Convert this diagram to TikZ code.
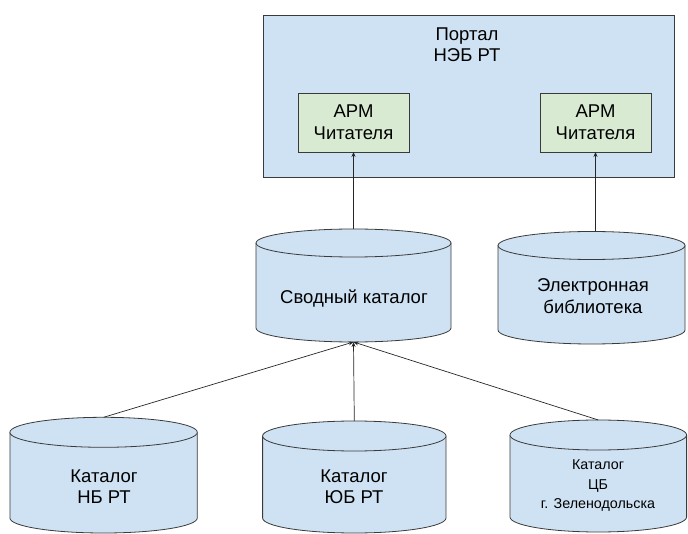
\documentclass[tikz,border=0pt]{standalone}
\usepackage{fontspec}
\setmainfont{Liberation Sans}
\usetikzlibrary{arrows.meta,calc}
\definecolor{blueF}{HTML}{CFE2F3}
\definecolor{greenF}{HTML}{D9EAD3}
\definecolor{edge}{HTML}{3A3A3A}
\tikzset{
  cylnode/.style={draw=none, fill=none, inner sep=0pt, outer sep=0pt},
  cylline/.style={draw=edge, line width=0.8pt},
  txt/.style={align=center, inner sep=0pt, font=\fontsize{18.5}{21}\selectfont},
  smalltxt/.style={align=center, inner sep=0pt, font=\fontsize{14.3}{19.5}\selectfont},
  portalbox/.style={draw=edge, fill=blueF, line width=0.8pt, inner sep=0pt, outer sep=0pt},
  armbox/.style={draw=edge, fill=greenF, line width=0.8pt, inner sep=0pt, outer sep=0pt,
    minimum width=111pt, minimum height=59pt, align=center, font=\fontsize{18.5}{22}\selectfont},
  arr/.style={draw=black!85, line width=0.7pt, -{Stealth[length=5pt,width=4pt]}}
}
% name, cx, top, bottom, rx, ry
\newcommand\dbcyl[6]{%
  \node[cylnode, minimum width={2*#5pt}, minimum height={(#4-#3)*1pt}] (#1) at (#2,{(#3+#4)/2}) {};
  \fill[blueF] ({#2-#5},{#3+#6}) -- ({#2-#5},{#4-#6})
     arc[start angle=180, end angle=360, x radius=#5pt, y radius=#6pt]
     -- ({#2+#5},{#3+#6}) -- cycle;
  \draw[cylline] ({#2-#5},{#3+#6}) -- ({#2-#5},{#4-#6})
     arc[start angle=180, end angle=360, x radius=#5pt, y radius=#6pt]
     -- ({#2+#5},{#3+#6});
  \draw[cylline, fill=blueF] (#2,{#3+#6}) ellipse[x radius=#5pt, y radius=#6pt];
}
\begin{document}
\begin{tikzpicture}[x=1pt, y=-1pt]
\useasboundingbox (0,0) rectangle (688,534);

% portal
\node[portalbox, minimum width=411pt, minimum height=162pt] (portal) at (468.5,96) {};
\node[txt] (portalT) at (467,45) {Портал\\НЭБ РТ};
\node[armbox] (arml) at (353.5,122.5) {АРМ\\Читателя};
\node[armbox] (armr) at (595.5,122.5) {АРМ\\Читателя};

% cylinders
\dbcyl{svod}{353.5}{229}{342}{97.5}{14}
\node[txt] (svodT) at (354,298) {Сводный каталог};

\dbcyl{elec}{591.5}{231.5}{344}{93.5}{14}
\node[txt, font=\fontsize{18.5}{22}\selectfont] (elecT) at (593,296) {Электронная\\библиотека};

\dbcyl{katnb}{103.6}{417.3}{533}{93.7}{15}
\node[txt] (katnbT) at (104,487) {Каталог\\НБ РТ};

\dbcyl{katyub}{354.3}{421}{533}{91.7}{15}
\node[txt] (katyubT) at (354,487) {Каталог\\ЮБ РТ};

\dbcyl{katzb}{598.3}{420}{532}{88.3}{15}
\node[smalltxt] (katzbT) at (598,486) {Каталог\\ЦБ\\г. Зеленодольска};

% connectors
\draw[arr] (svod.north) -- (arml.south);
\draw[arr] (armr.south |- elec.north) -- (armr.south);
\draw[arr] (katnb.north) -- (svod.south);
\draw[arr] (katyub.north) -- (svod.south);
\draw[arr] (katzb.north) -- (svod.south);
\end{tikzpicture}
\end{document}
